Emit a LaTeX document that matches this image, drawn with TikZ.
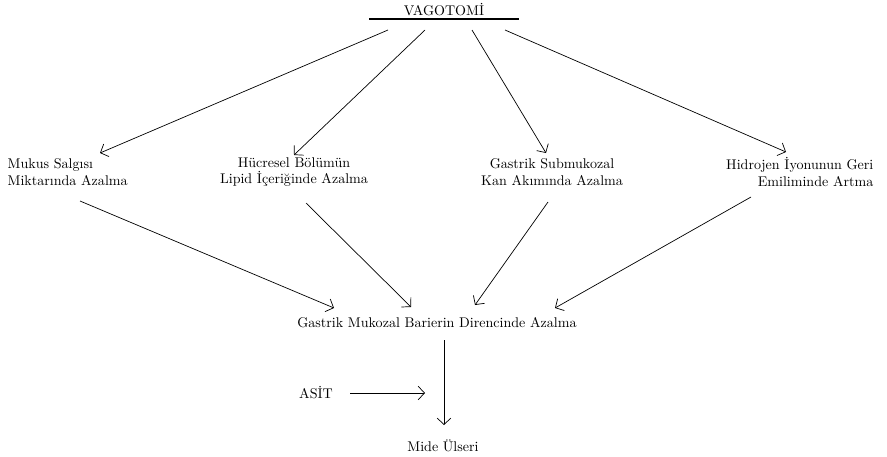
\documentclass[tikz,border=0pt]{standalone}
\usepackage{fontspec}
\usetikzlibrary{arrows.meta}

\tikzset{
  ok/.style={-{Straight Barb[length=1.6mm,width=3.4mm]}, line width=0.5pt},
  yazi/.style={inner sep=1pt, font=\normalsize, align=center}
}

\begin{document}
\begin{tikzpicture}[x=0.025cm,y=-0.025cm]
        % Çerçeve: 887 x 456 birim
        \useasboundingbox (0,0) rectangle (887,456);

        % Üst başlık ve altındaki çizgi
        \node[yazi, anchor=base] (vag) at (444,15) {VAGOTOMİ};
        \draw[line width=0.8pt] (369,19) -- (519,19);

        % Başlığın altından çıkan oklar için noktalar
        \coordinate (v1) at (388,30);
        \coordinate (v2) at (425,30);
        \coordinate (v3) at (472,30);
        \coordinate (v4) at (505,30);

        % Ara basamak
        \node[yazi, anchor=west, align=left] (mukus) at (6,172)
            {Mukus Salgısı\\Miktarında Azalma};
        \node[yazi] (lipid) at (294,172)
            {Hücresel Bölümün\\Lipid İçeriğinde Azalma};
        \node[yazi] (kan) at (552,172)
            {Gastrik Submukozal\\Kan Akımında Azalma};
        \node[yazi, anchor=east, align=right] (hidro) at (875,172)
            {Hidrojen İyonunun Geri\\Emiliminde Artma};

        % Ortadaki sonuç
        \node[yazi] (bariyer) at (437,323)
            {Gastrik Mukozal Barierin Direncinde Azalma};
        \node[yazi] (asit) at (316,393) {ASİT};
        \node[yazi] (ulser) at (443,446) {Mide Ülseri};

        % Ok uçları
        \coordinate (m1) at (100,153);
        \coordinate (l1) at (294,155);
        \coordinate (k1) at (546,153);
        \coordinate (h1) at (786,152);
        \coordinate (b1) at (334,308);
        \coordinate (b2) at (411,307);
        \coordinate (b3) at (475,305);
        \coordinate (b4) at (555,308);
        \coordinate (m2) at (80,201);
        \coordinate (l2) at (306,203);
        \coordinate (k2) at (548,202);
        \coordinate (h2) at (751,197);
        \coordinate (a1) at (350,393);
        \coordinate (a2) at (425,393);
        \coordinate (u1) at (444,340);
        \coordinate (u2) at (444,425);

        \draw[ok] (v1) -- (m1);
        \draw[ok] (v2) -- (l1);
        \draw[ok] (v3) -- (k1);
        \draw[ok] (v4) -- (h1);

        \draw[ok] (m2) -- (b1);
        \draw[ok] (l2) -- (b2);
        \draw[ok] (k2) -- (b3);
        \draw[ok] (h2) -- (b4);

        % Asit ve ülser
        \draw[ok] (a1) -- (a2);
        \draw[ok] (u1) -- (u2);
\end{tikzpicture}
\end{document}
